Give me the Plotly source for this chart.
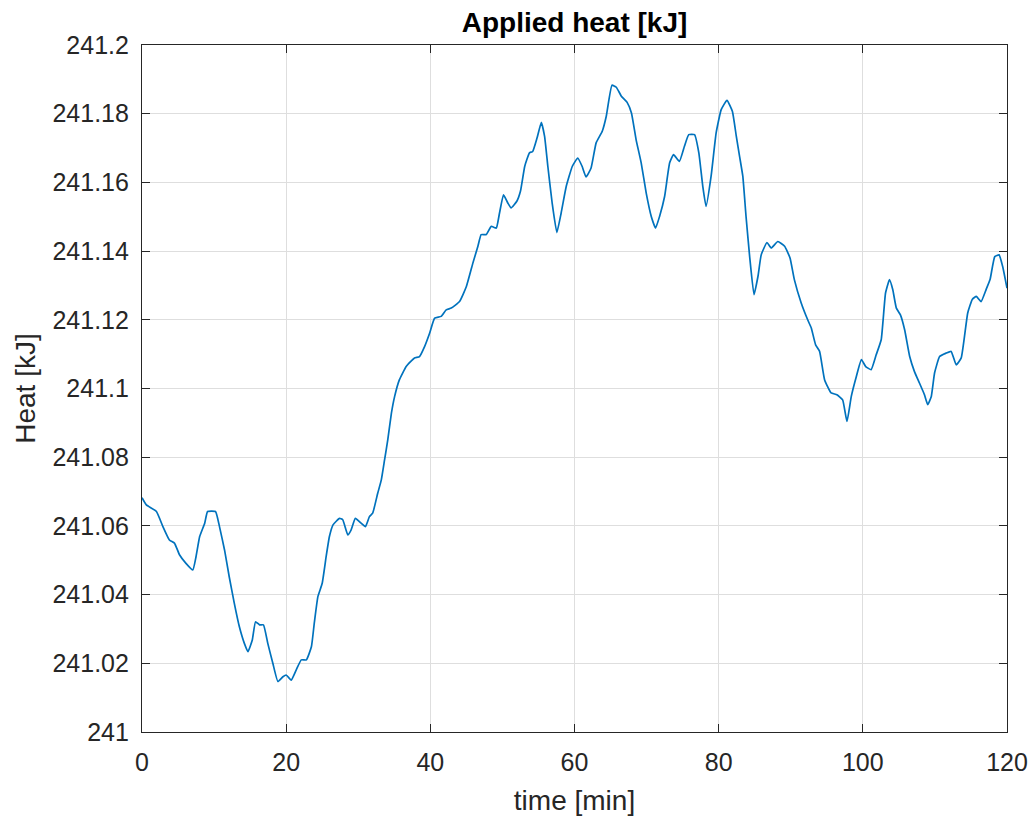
import plotly.graph_objects as go

time_min = [0, 0.6, 2.0, 2.9, 3.8, 4.5, 5.2, 6.1, 7.05, 7.5, 8.0, 8.7, 9.1, 10.2, 10.75,
            11.45, 12.1, 12.8, 13.5, 14.2, 14.7, 15.3, 15.75, 16.3, 16.85, 17.45, 18.15,
            18.85, 19.55, 20.0, 20.7, 21.4, 22.1, 22.8, 23.5, 23.9, 24.4, 25.0, 25.55,
            26.0, 26.5, 27.4, 27.85, 28.55, 29.0, 29.6, 30.4, 31.0, 31.55, 32.0, 32.7,
            33.2, 33.65, 34.1, 34.6, 35.05, 35.7, 36.65, 37.8, 38.5, 39.2, 39.9, 40.6,
            41.5, 42.2, 42.9, 44.05, 45.0, 45.9, 46.6, 47.05, 47.75, 48.45, 49.15, 49.6,
            50.15, 50.75, 51.2, 52.0, 52.5, 53.1, 53.75, 54.2, 54.8, 55.4, 55.85, 56.3,
            56.9, 57.55, 58.15, 58.85, 59.7, 60.45, 61.05, 61.6, 62.3, 63.0, 63.85, 64.4,
            65.2, 65.8, 66.5, 67.3, 67.9, 68.55, 69.25, 69.95, 70.65, 71.25, 71.8, 72.5,
            73.2, 73.75, 74.55, 75.25, 75.85, 76.65, 77.25, 77.8, 78.25, 78.95, 79.65,
            80.35, 81.15, 81.9, 82.45, 82.9, 83.35, 83.8, 84.3, 84.9, 85.45, 85.9, 86.7,
            87.3, 88.2, 89.15, 89.9, 90.5, 91.45, 92.35, 92.85, 93.45, 94.0, 94.7, 95.6,
            96.4, 97.2, 97.8, 98.4, 99.1, 99.8, 100.4, 101.15, 101.85, 102.55, 103.15,
            103.7, 104.15, 104.65, 105.2, 105.8, 106.5, 107.15, 107.85, 108.55, 109.0,
            109.5, 109.95, 110.65, 111.55, 112.25, 112.95, 113.65, 114.55, 115.2, 115.75,
            116.4, 117.1, 117.65, 118.3, 118.9, 119.4, 120.0]

heat_kj = [241.0682, 241.0661, 241.0642, 241.0598, 241.0559, 241.0550, 241.0516, 241.0491,
           241.0472, 241.0511, 241.0569, 241.0608, 241.0642, 241.0642, 241.0598, 241.0530,
           241.0452, 241.0375, 241.0307, 241.0258, 241.0234, 241.0268, 241.0321, 241.0312,
           241.0312, 241.0258, 241.0200, 241.0147, 241.0161, 241.0166, 241.0151, 241.0181,
           241.0210, 241.0210, 241.0248, 241.0317, 241.0394, 241.0433, 241.0511, 241.0569,
           241.0603, 241.0622, 241.0618, 241.0574, 241.0588, 241.0622, 241.0608, 241.0598,
           241.0627, 241.0637, 241.0695, 241.0734, 241.0792, 241.0851, 241.0928, 241.0977,
           241.1025, 241.1064, 241.1089, 241.1093, 241.1122, 241.1161, 241.1205, 241.1210,
           241.1229, 241.1234, 241.1253, 241.1297, 241.1365, 241.1414, 241.1448, 241.1448,
           241.1472, 241.1467, 241.1511, 241.1564, 241.1540, 241.1526, 241.1545, 241.1574,
           241.1647, 241.1686, 241.1690, 241.1729, 241.1775, 241.1734, 241.1647, 241.1540,
           241.1454, 241.1511, 241.1588, 241.1647, 241.1671, 241.1647, 241.1616, 241.1642,
           241.1715, 241.1749, 241.1792, 241.1883, 241.1877, 241.1851, 241.1833, 241.1802,
           241.1724, 241.1657, 241.1569, 241.1501, 241.1467, 241.1501, 241.1559, 241.1657,
           241.1681, 241.1661, 241.1705, 241.1739, 241.1739, 241.1686, 241.1588, 241.1530,
           241.1618, 241.1744, 241.1812, 241.1839, 241.1807, 241.1734, 241.1676, 241.1618,
           241.1500, 241.1384, 241.1273, 241.1326, 241.1389, 241.1425, 241.1409, 241.1428,
           241.1414, 241.1380, 241.1317, 241.1249, 241.1200, 241.1176, 241.1127, 241.1108,
           241.1025, 241.0987, 241.0982, 241.0967, 241.0904, 241.0977, 241.1035, 241.1084,
           241.1064, 241.1055, 241.1098, 241.1142, 241.1278, 241.1317, 241.1288, 241.1234,
           241.1215, 241.1171, 241.1093, 241.1050, 241.1016, 241.0982, 241.0953, 241.0977,
           241.1045, 241.1093, 241.1103, 241.1108, 241.1069, 241.1089, 241.1220, 241.1260,
           241.1268, 241.1253, 241.1288, 241.1317, 241.1384, 241.1389, 241.1355, 241.1292]

x_ticks = [0, 20, 40, 60, 80, 100, 120]
y_ticks = [241, 241.02, 241.04, 241.06, 241.08, 241.1, 241.12, 241.14, 241.16, 241.18, 241.2]
y_labels = ["241", "241.02", "241.04", "241.06", "241.08", "241.1", "241.12",
            "241.14", "241.16", "241.18", "241.2"]

FONT = "Liberation Sans, Arial, Helvetica, sans-serif"
AX = "#262626"

W, H = 1034, 818
L, R, T, B = 142, 27, 45, 86

fig = go.Figure()
fig.add_trace(go.Scatter(x=time_min, y=heat_kj, mode="lines",
                         line=dict(color="#0072BD", width=1.7, shape="spline", smoothing=0.4),
                         showlegend=False))

axis_common = dict(showline=True, linecolor=AX, linewidth=1.2, mirror="ticks",
                   ticks="inside", ticklen=8, tickcolor=AX, tickwidth=1,
                   showgrid=True, gridcolor="#dedede", gridwidth=1, zeroline=False,
                   ticklabeloverflow="allow", automargin=False,
                   tickfont=dict(family=FONT, size=25, color=AX))

fig.update_xaxes(range=[0, 120], tickvals=x_ticks, ticklabelstandoff=8,
                 title=dict(text="time [min]", font=dict(family=FONT, size=28, color=AX), standoff=15),
                 **axis_common)
fig.update_yaxes(range=[241, 241.2], tickvals=y_ticks, ticktext=y_labels, ticklabelstandoff=7,
                 title=dict(text="Heat [kJ]", font=dict(family=FONT, size=28, color=AX), standoff=8),
                 **axis_common)

fig.update_layout(
    width=W, height=H,
    margin=dict(l=L, r=R, t=T, b=B, autoexpand=False),
    paper_bgcolor="white", plot_bgcolor="white",
    title=dict(text="<b>Applied heat [kJ]</b>", x=(L + (W - R)) / 2 / W, xanchor="center",
               y=1 - 22 / H, yanchor="middle",
               font=dict(family=FONT, size=28, color="#000000")),
)

fig.write_html("out.html", config={"displayModeBar": False},
               post_script="document.body.style.margin='0';document.body.style.overflow='hidden';")
